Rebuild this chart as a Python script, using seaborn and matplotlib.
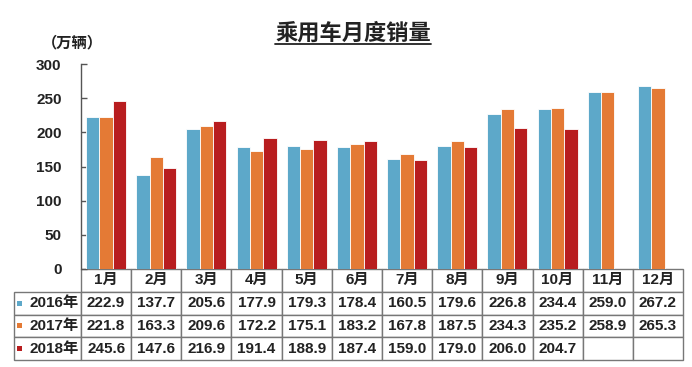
import numpy as np
import pandas as pd
import matplotlib
matplotlib.use("Agg")
import matplotlib.pyplot as plt
import seaborn as sns
from matplotlib.table import Table
from matplotlib.patches import Rectangle
from matplotlib.lines import Line2D

months = ['1月', '2月', '3月', '4月', '5月', '6月', '7月', '8月', '9月', '10月', '11月', '12月']
years = ['2016年', '2017年', '2018年']
sales_2016 = [222.9, 137.7, 205.6, 177.9, 179.3, 178.4, 160.5, 179.6, 226.8, 234.4, 259.0, 267.2]
sales_2017 = [221.8, 163.3, 209.6, 172.2, 175.1, 183.2, 167.8, 187.5, 234.3, 235.2, 258.9, 265.3]
sales_2018 = [245.6, 147.6, 216.9, 191.4, 188.9, 187.4, 159.0, 179.0, 206.0, 204.7, np.nan, np.nan]
yticks = [0, 50, 100, 150, 200, 250, 300]
colors = ['#5da8c9', '#e47a35', '#b81d1f']

sns.set_theme(style='white')
plt.rcParams['font.family'] = ['Liberation Sans', 'Noto Sans CJK SC', 'DejaVu Sans']

series = [sales_2016, sales_2017, sales_2018]
rows = []
for yr, vals in zip(years, series):
    for m, v in zip(months, vals):
        rows.append({'month': m, 'year': yr, 'sales': v})
df = pd.DataFrame(rows).dropna()

W, H = 692, 367
fig = plt.figure(figsize=(W / 100, H / 100), dpi=100)
ax_l, ax_r, ax_t, ax_b = 81, 683, 64, 269
ax = fig.add_axes([ax_l / W, 1 - ax_b / H, (ax_r - ax_l) / W, (ax_b - ax_t) / H])

sns.barplot(data=df, x='month', y='sales', hue='year', order=months, hue_order=years,
            palette=colors, width=0.8, saturation=1, edgecolor='white', linewidth=0.6,
            legend=False, ax=ax)

ax.set_ylim(0, 300)
ax.set_yticks(yticks)
ax.set_yticklabels([str(t) for t in yticks], fontsize=11, fontweight='bold', color='#222222')
ax.set_xticks([])
ax.set_xlabel('')
ax.set_ylabel('')
for s in ['top', 'right', 'bottom']:
    ax.spines[s].set_visible(False)
ax.spines['left'].set_color('#555555')
ax.spines['left'].set_linewidth(1.0)
ax.tick_params(axis='y', direction='in', length=4, width=1, color='#555555', pad=14, left=True)

# data table
aw = ax_r - ax_l
ah = ax_b - ax_t
tbl_left, tbl_bottom = 14, 360
tbl = Table(ax, bbox=[(tbl_left - ax_l) / aw, -(tbl_bottom - ax_b) / ah,
                      (ax_r - tbl_left) / aw, (tbl_bottom - ax_b) / ah])
col0_w = ax_l - tbl_left
colw = aw / 12
rh = 1.0
edge = '#777777'
c = tbl.add_cell(0, 0, width=col0_w, height=rh, text='', loc='center')
c.visible_edges = ''
for j, m in enumerate(months):
    c = tbl.add_cell(0, j + 1, width=colw, height=rh, text=m, loc='center', edgecolor=edge)
for i, (yr, vals) in enumerate(zip(years, series)):
    c = tbl.add_cell(i + 1, 0, width=col0_w, height=rh, text=yr, loc='right', edgecolor=edge)
    c.PAD = 0.03
    for j, v in enumerate(vals):
        txt = '' if (v is None or (isinstance(v, float) and np.isnan(v))) else f'{v:.1f}'
        tbl.add_cell(i + 1, j + 1, width=colw, height=rh, text=txt, loc='center', edgecolor=edge)
tbl.auto_set_font_size(False)
tbl.set_fontsize(11)
for cell in tbl.get_celld().values():
    cell.get_text().set_fontweight('bold')
    cell.get_text().set_color('#222222')
    cell.set_linewidth(1.0)
ax.add_table(tbl)

# legend keys in the table
row_h = (tbl_bottom - ax_b) / 4
for i, col in enumerate(colors):
    cy = ax_b + row_h * (i + 1) + row_h / 2
    sq = 5
    ax.add_patch(Rectangle(((17 - ax_l) / aw, 1 - (cy + sq / 2 - ax_t) / ah), sq / aw, sq / ah,
                           transform=ax.transAxes, facecolor=col, edgecolor='none', clip_on=False))

# unit label and title
fig.text(72 / W, 1 - 42 / H, '（万辆）', ha='center', va='center', fontsize=11, fontweight='bold',
         color='#222222', family=['Noto Sans CJK SC', 'DejaVu Sans'])
title = fig.text(353 / W, 1 - 33 / H, '乘用车月度销量', ha='center', va='center', fontsize=16,
                 fontweight='bold', color='#222222', family=['Noto Sans CJK SC', 'DejaVu Sans'])
fig.canvas.draw()
bb = title.get_window_extent(renderer=fig.canvas.get_renderer())
uy = 1 - 44 / H
fig.add_artist(Line2D([bb.x0 / W, bb.x1 / W], [uy, uy], transform=fig.transFigure,
                      color='#222222', linewidth=1.3))

fig.savefig('out.png', dpi=100, facecolor='white')
